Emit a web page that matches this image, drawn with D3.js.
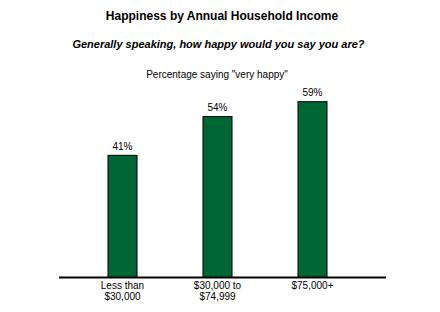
<!DOCTYPE html>
<html><head><meta charset="utf-8">
<script src="https://cdn.jsdelivr.net/npm/d3@7"></script>
<style>body{margin:0;background:#fff}svg{display:block}text{font-family:"Liberation Sans",Arial,sans-serif;fill:#000}</style>
</head><body>
<svg id="c" width="440" height="312"></svg>
<script>
const categories = [["Less than","$30,000"],["$30,000 to","$74,999"],["$75,000+"]];
const values = [41, 54, 59];
const valueLabels = ["41%","54%","59%"];
const title = "Happiness by Annual Household Income";
const subtitle = "Generally speaking, how happy would you say you are?";
const note = 'Percentage saying "very happy"';

const svg = d3.select("#c");
const base = 277;
const x = d3.scaleBand().domain(d3.range(values.length)).range([75, 360]).paddingInner(0.684).paddingOuter(0.342);
const y = d3.scaleLinear().domain([0, 100]).range([base, base - 298]);

svg.append("text").attr("x", 222).attr("y", 20).attr("text-anchor","middle")
  .style("font-size","12px").style("font-weight","bold").text(title);
svg.append("text").attr("x", 218.5).attr("y", 48).attr("text-anchor","middle")
  .style("font-size","11px").style("font-weight","bold").style("font-style","italic").text(subtitle);
svg.append("text").attr("x", 217).attr("y", 78).attr("text-anchor","middle")
  .style("font-size","10px").text(note);

svg.selectAll("rect.bar").data(values).join("rect").attr("class","bar")
  .attr("x",(d,i)=>x(i)+0.5).attr("width",x.bandwidth()-1)
  .attr("y",d=>y(d)+0.5).attr("height",d=>base-y(d))
  .attr("fill","#006633").attr("stroke","#000").attr("stroke-width",1);

svg.selectAll("text.val").data(values).join("text").attr("class","val")
  .attr("x",(d,i)=>x(i)+x.bandwidth()/2).attr("y",d=>y(d)-5)
  .attr("text-anchor","middle").style("font-size","10px")
  .text((d,i)=>valueLabels[i]);

svg.append("line").attr("x1",59).attr("x2",386).attr("y1",base+0.5).attr("y2",base+0.5)
  .attr("stroke","#000").attr("stroke-width",2);

const cl = svg.selectAll("text.cat").data(categories).join("text").attr("class","cat")
  .attr("text-anchor","middle").style("font-size","10px");
cl.each(function(lines,i){
  d3.select(this).selectAll("tspan").data(lines).join("tspan")
    .attr("x", x(i)+x.bandwidth()/2).attr("y",(l,j)=>289+j*11).text(l=>l);
});
</script>
</body></html>
